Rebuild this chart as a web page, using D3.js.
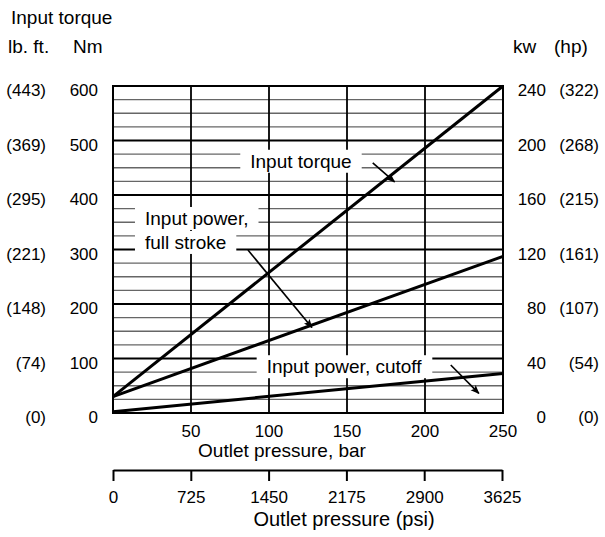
<!DOCTYPE html>
<meta charset="utf-8">
<style>
 body { margin: 0; background: #fff; }
 text {
     font-family: "Liberation Sans", Arial, sans-serif;
     fill: #000;
 }
 .tick-lab { font-size: 17px; }
 .title { font-size: 19px; }
 .grid-minor { stroke: #666; stroke-width: 1.3px; }
 .grid-major { stroke: #000; stroke-width: 1.8px; }
 .curve { fill: none; stroke: #000; stroke-width: 3px; }
 .leader { stroke: #000; stroke-width: 1.6px; fill: none; }
</style>

<svg class="chart"></svg>

<script src="https://cdn.jsdelivr.net/npm/d3@7"></script>
<script>

 // outlet pressure, bar (end points of each straight line)
 var pressureBar = [0, 250];
 // input torque, Nm
 var torqueNm = [30, 600];
 // input power, kW
 var powerFullKw = [12, 115];
 var powerCutoffKw = [1, 29];

 // axis tick values
 var nmTicks = [0, 100, 200, 300, 400, 500, 600];
 var lbftLabels = ["(0)", "(74)", "(148)", "(221)", "(295)", "(369)", "(443)"];
 var kwTicks = [0, 40, 80, 120, 160, 200, 240];
 var hpLabels = ["(0)", "(54)", "(107)", "(161)", "(215)", "(268)", "(322)"];
 var barTicks = [50, 100, 150, 200, 250];
 var psiTicks = [0, 725, 1450, 2175, 2900, 3625];

 var width = 605, height = 537;

 var svg = d3.select(".chart").attr("width", width).attr("height", height);

 var x = d3.scaleLinear().domain([0, 250]).range([113, 503]);
 var xPsi = d3.scaleLinear().domain([0, 3625]).range([113, 502]);
 var y = d3.scaleLinear().domain([0, 600]).range([413, 86]);
 var yKw = d3.scaleLinear().domain([0, 240]).range([413, 86]);

 // grid
 var grid = svg.append("g");
 grid.selectAll(".h").data(d3.range(25, 600, 25)).enter()
     .append("line")
     .attr("class", function(d) { return d % 100 == 0 ? "grid-major" : "grid-minor"; })
     .attr("x1", x(0)).attr("x2", x(250))
     .attr("y1", function(d) { return y(d); }).attr("y2", function(d) { return y(d); });
 grid.selectAll(".v").data([50, 100, 150, 200]).enter()
     .append("line").attr("class", "grid-major")
     .attr("x1", function(d) { return x(d); }).attr("x2", function(d) { return x(d); })
     .attr("y1", y(0)).attr("y2", y(600));

 // annotation labels, white boxes behind them cut the grid
 var labels = [
     { text: "Input  torque", bar: 88, nm: 450 },
     { text: "Input power,", bar: 20.5, nm: 345 },
     { text: "full stroke", bar: 20.5, nm: 301 },
     { text: "Input  power, cutoff", bar: 98.5, nm: 73 }
 ];
 var arrows = [
     { from: [166.5, 459], to: [180.5, 424] },
     { from: [86.5, 299], to: [127.5, 157] },
     { from: [216.5, 88], to: [234.5, 36] }
 ];

 var labG = svg.append("g");
 labels.forEach(function(l) {
     var t = labG.append("text").attr("class", "title")
         .attr("x", x(l.bar)).attr("y", y(l.nm)).text(l.text);
     var b = t.node().getBBox();
     labG.insert("rect", "text")
         .attr("x", b.x - 10).attr("y", b.y - 1)
         .attr("width", b.width + 20).attr("height", b.height + 2)
         .attr("fill", "#fff");
 });

 // frame
 svg.append("rect")
    .attr("x", x(0)).attr("y", y(600))
    .attr("width", x(250) - x(0)).attr("height", y(0) - y(600))
    .attr("fill", "none").attr("stroke", "#000").attr("stroke-width", 2);

 // curves
 var line = d3.line().x(function(d) { return x(d[0]); }).y(function(d) { return y(d[1]); });
 var toNm = function(kw) { return y.invert(yKw(kw)); };
 var series = [
     d3.zip(pressureBar, torqueNm),
     d3.zip(pressureBar, powerFullKw.map(toNm)),
     d3.zip(pressureBar, powerCutoffKw.map(toNm))
 ];
 svg.selectAll(".curve").data(series).enter()
    .append("path").attr("class", "curve").attr("d", line);

 // leader arrows
 svg.append("defs").append("marker")
    .attr("id", "head").attr("viewBox", "0 0 10 10")
    .attr("refX", 9).attr("refY", 5)
    .attr("markerWidth", 9).attr("markerHeight", 9)
    .attr("orient", "auto").attr("markerUnits", "userSpaceOnUse")
    .append("path").attr("d", "M0,1L10,5L0,9L2,5Z").attr("fill", "#000");

 svg.selectAll(".leader").data(arrows).enter()
    .append("line").attr("class", "leader")
    .attr("x1", function(d) { return x(d.from[0]); })
    .attr("y1", function(d) { return y(d.from[1]); })
    .attr("x2", function(d) { return x(d.to[0]); })
    .attr("y2", function(d) { return y(d.to[1]); })
    .attr("marker-end", "url(#head)");

 // left labels: lb.ft. and Nm
 svg.selectAll(".nm").data(nmTicks).enter()
    .append("text").attr("class", "tick-lab")
    .attr("x", 98).attr("y", function(d) { return y(d) + 10; })
    .attr("text-anchor", "end").text(function(d) { return d; });
 svg.selectAll(".lbft").data(nmTicks).enter()
    .append("text").attr("class", "tick-lab")
    .attr("x", 46).attr("y", function(d) { return y(d) + 10; })
    .attr("text-anchor", "end").text(function(d, i) { return lbftLabels[i]; });

 // right labels: kw and hp
 svg.selectAll(".kw").data(kwTicks).enter()
    .append("text").attr("class", "tick-lab")
    .attr("x", 546).attr("y", function(d) { return yKw(d) + 10; })
    .attr("text-anchor", "end").text(function(d) { return d; });
 svg.selectAll(".hp").data(kwTicks).enter()
    .append("text").attr("class", "tick-lab")
    .attr("x", 599).attr("y", function(d) { return yKw(d) + 10; })
    .attr("text-anchor", "end").text(function(d, i) { return hpLabels[i]; });

 // headers
 svg.append("text").attr("class", "title").attr("x", 11).attr("y", 24).text("Input  torque");
 svg.append("text").attr("class", "title").attr("x", 8).attr("y", 53).text("lb. ft.");
 svg.append("text").attr("class", "title").attr("x", 73).attr("y", 53).text("Nm");
 svg.append("text").attr("class", "title").attr("x", 513).attr("y", 53).text("kw");
 svg.append("text").attr("class", "title").attr("x", 554).attr("y", 53).text("(hp)");

 // bar labels
 svg.selectAll(".bar").data(barTicks).enter()
    .append("text").attr("class", "tick-lab")
    .attr("x", function(d) { return x(d); }).attr("y", 437)
    .attr("text-anchor", "middle").text(function(d) { return d; });
 svg.append("text").attr("class", "title")
    .attr("x", 282).attr("y", 457).attr("text-anchor", "middle")
    .text("Outlet pressure, bar");

 // psi axis
 var psiAxis = d3.axisBottom(xPsi).tickValues(psiTicks).tickFormat(d3.format("d"))
     .tickSize(11).tickSizeOuter(0).tickPadding(10);
 var pa = svg.append("g").attr("transform", "translate(0,470)").call(psiAxis);
 pa.attr("font-family", null).attr("font-size", null);
 pa.select(".domain").attr("stroke-width", 2);
 pa.selectAll(".tick line").attr("stroke-width", 2);
 pa.selectAll(".tick text").attr("class", "tick-lab");
 svg.append("text").attr("class", "title")
    .attr("x", 344).attr("y", 526).attr("text-anchor", "middle")
    .style("font-size", "20px")
    .text("Outlet pressure (psi)");

</script>
